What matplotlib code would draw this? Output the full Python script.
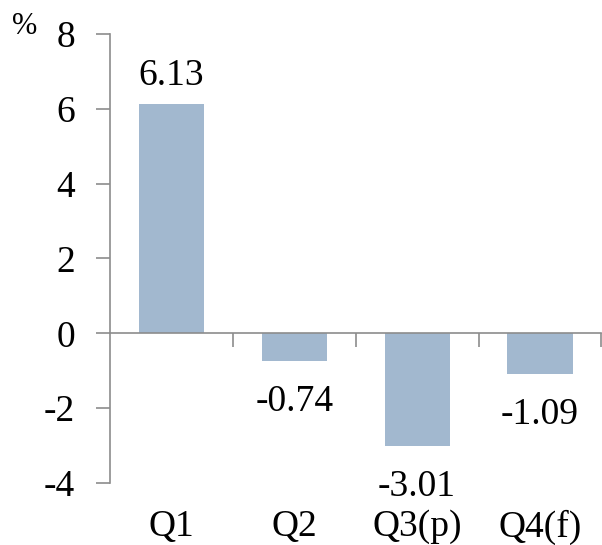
import matplotlib
matplotlib.use('Agg')
import matplotlib.pyplot as plt
import matplotlib.transforms as mtransforms

# Quarterly growth, per cent
quarters = ['Q1', 'Q2', 'Q3(p)', 'Q4(f)']
growth = [6.13, -0.74, -3.01, -1.09]
y_ticks = [-4, -2, 0, 2, 4, 6, 8]

bar_color = '#A2B8CF'
axis_color = '#8C8C8C'
font_size = 27

plt.rcParams['font.family'] = ['Liberation Serif', 'DejaVu Serif']

fig = plt.figure(figsize=(6.02, 5.45), dpi=100)
ax = fig.add_axes([0.1827, 0.1138, 0.8173 - 0.001, 0.8238])

x = list(range(len(quarters)))
ax.bar(x, growth, width=0.53, color=bar_color, zorder=2)

ax.set_xlim(-0.5, len(quarters) - 0.5)
ax.set_ylim(-4, 8)
ax.set_yticks(y_ticks)
ax.set_yticklabels([str(v) for v in y_ticks], fontsize=font_size)

# zero line with category separators hanging below it
ax.spines['bottom'].set_position(('data', 0))
ax.set_xticks([i + 0.5 for i in x])
ax.tick_params(axis='x', direction='out', length=10, width=1.2,
               color=axis_color, labelbottom=False)
ax.tick_params(axis='y', direction='out', length=10, width=1.2,
               color=axis_color, pad=15)

for side in ['top', 'right']:
    ax.spines[side].set_visible(False)
for side in ['left', 'bottom']:
    ax.spines[side].set_color(axis_color)
    ax.spines[side].set_linewidth(1.2)

# category labels sit under the plot area, not under the zero line
trans = mtransforms.blended_transform_factory(ax.transData, ax.transAxes)
for xi, name in zip(x, quarters):
    ax.annotate(name, xy=(xi, 0), xycoords=trans, xytext=(0, -19),
                textcoords='offset points', ha='center', va='top',
                fontsize=font_size, annotation_clip=False)

# value labels
for xi, v in zip(x, growth):
    if v >= 0:
        ax.annotate(f'{v:.2f}', xy=(xi, v), xytext=(0, 8),
                    textcoords='offset points', ha='center', va='bottom',
                    fontsize=font_size)
    else:
        ax.annotate(f'{v:.2f}', xy=(xi, v), xytext=(0, -17),
                    textcoords='offset points', ha='center', va='top',
                    fontsize=font_size)

fig.text(0.02, 0.978, '%', fontsize=22, ha='left', va='top')

fig.savefig('out.png', dpi=100)
